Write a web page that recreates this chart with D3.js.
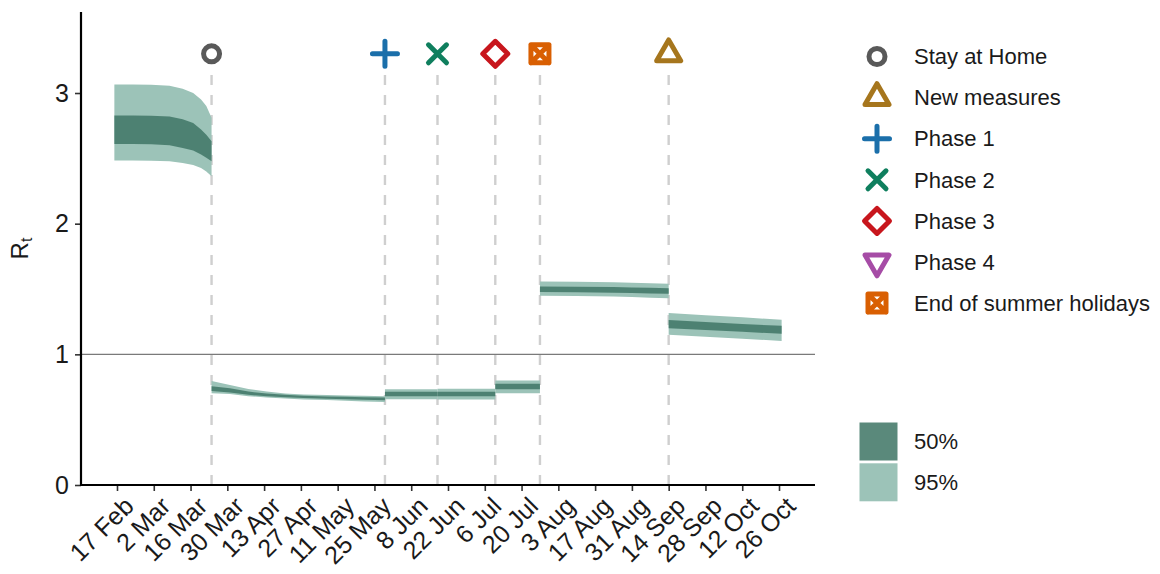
<!DOCTYPE html>
<html>
<head>
<meta charset="utf-8">
<script src="https://cdn.jsdelivr.net/npm/d3@7"></script>
<style>
  body { margin: 0; background: #fff; }
  text { font-family: "Liberation Sans", Arial, Helvetica, sans-serif; fill: #1a1a1a; }
</style>
</head>
<body>
<svg id="chart" width="1160" height="574"></svg>
<script>
// ---- Axis ticks ----
const tickDates = ["2020-02-17","2020-03-02","2020-03-16","2020-03-30","2020-04-13","2020-04-27",
  "2020-05-11","2020-05-25","2020-06-08","2020-06-22","2020-07-06","2020-07-20","2020-08-03",
  "2020-08-17","2020-08-31","2020-09-14","2020-09-28","2020-10-12","2020-10-26"];
const tickLabels = ["17 Feb","2 Mar","16 Mar","30 Mar","13 Apr","27 Apr","11 May","25 May",
  "8 Jun","22 Jun","6 Jul","20 Jul","3 Aug","17 Aug","31 Aug","14 Sep","28 Sep","12 Oct","26 Oct"];
const yTicks = [0, 1, 2, 3];

// ---- Interventions marked above the plot ----
const eventNames = ["Stay at Home","Phase 1","Phase 2","Phase 3","End of summer holidays","New measures"];
const eventDates = ["2020-03-24","2020-05-29","2020-06-18","2020-07-10","2020-07-27","2020-09-14"];
const eventMarkerY = 3.3;
const eventLineTop = 3.18;

// ---- Legend entries (shape and colour per intervention) ----
const legendNames  = ["Stay at Home","New measures","Phase 1","Phase 2","Phase 3","Phase 4","End of summer holidays"];
const legendShapes = ["circle","triangle","plus","cross","diamond","triangleDown","boxcross"];
const legendColors = ["#595959","#a6761d","#1b6faa","#0f7f5e","#c8161d","#a64ca6","#d95f02"];

// ---- Rt credible intervals per period: [date, lo95, lo50, hi50, hi95] ----
const rtBeforeLockdown = [
  ["2020-02-16", 2.483, 2.610, 2.828, 3.066],
  ["2020-02-23", 2.483, 2.610, 2.828, 3.066],
  ["2020-03-01", 2.482, 2.608, 2.826, 3.064],
  ["2020-03-08", 2.478, 2.600, 2.820, 3.056],
  ["2020-03-13", 2.465, 2.580, 2.800, 3.032],
  ["2020-03-17", 2.450, 2.560, 2.770, 3.000],
  ["2020-03-20", 2.427, 2.530, 2.720, 2.950],
  ["2020-03-22", 2.400, 2.505, 2.680, 2.900],
  ["2020-03-24", 2.362, 2.477, 2.630, 2.810]
];
const rtLockdown = [
  ["2020-03-24", 0.703, 0.720, 0.755, 0.795],
  ["2020-03-31", 0.697, 0.708, 0.740, 0.765],
  ["2020-04-07", 0.680, 0.690, 0.715, 0.735],
  ["2020-04-14", 0.670, 0.680, 0.700, 0.715],
  ["2020-04-21", 0.662, 0.672, 0.690, 0.700],
  ["2020-04-28", 0.655, 0.665, 0.683, 0.693],
  ["2020-05-07", 0.650, 0.660, 0.678, 0.688],
  ["2020-05-14", 0.645, 0.657, 0.675, 0.685],
  ["2020-05-21", 0.640, 0.653, 0.672, 0.683],
  ["2020-05-29", 0.635, 0.648, 0.670, 0.680]
];
const rtPhase1 = [
  ["2020-05-29", 0.657, 0.680, 0.714, 0.733],
  ["2020-06-18", 0.657, 0.680, 0.714, 0.733]
];
const rtPhase2 = [
  ["2020-06-18", 0.655, 0.680, 0.714, 0.737],
  ["2020-07-10", 0.655, 0.680, 0.714, 0.737]
];
const rtPhase3 = [
  ["2020-07-10", 0.703, 0.733, 0.775, 0.800],
  ["2020-07-27", 0.703, 0.733, 0.775, 0.800]
];
const rtSummer = [
  ["2020-07-27", 1.448, 1.477, 1.520, 1.558],
  ["2020-08-10", 1.446, 1.476, 1.518, 1.556],
  ["2020-08-24", 1.442, 1.472, 1.515, 1.552],
  ["2020-08-31", 1.438, 1.469, 1.512, 1.548],
  ["2020-09-07", 1.434, 1.466, 1.509, 1.544],
  ["2020-09-14", 1.430, 1.463, 1.506, 1.540]
];
const rtNewMeasures = [
  ["2020-09-14", 1.149, 1.200, 1.262, 1.316],
  ["2020-09-28", 1.135, 1.187, 1.248, 1.300],
  ["2020-10-12", 1.120, 1.172, 1.233, 1.283],
  ["2020-10-27", 1.103, 1.157, 1.218, 1.264]
];
const rtPeriods = [rtBeforeLockdown, rtLockdown, rtPhase1, rtPhase2, rtPhase3, rtSummer, rtNewMeasures];

const bandLevels = ["50%", "95%"];

// ---- Layout ----
const plot = { left: 81, right: 815, top: 12, bottom: 485 };
const axisFont = 25;
const legendFont = 22;
const fill95 = "#9cc3b8";
const fill50 = "#427867";
const fill50Opacity = 0.87;

const parse = d3.utcParse("%Y-%m-%d");
const svg = d3.select("#chart");

// x: date extent of the estimates expanded by 5% on each side
const allDates = rtPeriods.flat().map(r => parse(r[0]));
const [d0, d1] = d3.extent(allDates);
const pad = (d1 - d0) * 0.05;
const x = d3.scaleUtc()
  .domain([new Date(+d0 - pad), new Date(+d1 + pad)])
  .range([plot.left, plot.right]);
const y = d3.scaleLinear().domain([0, 3.62]).range([plot.bottom, plot.top]);

// Event guide lines
const events = eventNames.map((n, i) => ({ name: n, date: parse(eventDates[i]),
  shape: legendShapes[legendNames.indexOf(n)], color: legendColors[legendNames.indexOf(n)] }));

svg.append("g").selectAll("line").data(events).join("line")
  .attr("x1", d => x(d.date)).attr("x2", d => x(d.date))
  .attr("y1", y(0)).attr("y2", y(eventLineTop))
  .attr("stroke", "#cfcfcf").attr("stroke-width", 2.4)
  .attr("stroke-dasharray", "10,10");

// Reference line at Rt = 1
svg.append("line")
  .attr("x1", plot.left).attr("x2", plot.right)
  .attr("y1", y(1)).attr("y2", y(1))
  .attr("stroke", "#7a7a7a").attr("stroke-width", 1.1);

// Credible bands
const area95 = d3.area().x(r => x(parse(r[0]))).y0(r => y(r[1])).y1(r => y(r[4]));
const area50 = d3.area().x(r => x(parse(r[0]))).y0(r => y(r[2])).y1(r => y(r[3]));
const bands = svg.append("g");
bands.selectAll("path.b95").data(rtPeriods).join("path").attr("class", "b95")
  .attr("d", area95).attr("fill", fill95);
bands.selectAll("path.b50").data(rtPeriods).join("path").attr("class", "b50")
  .attr("d", area50).attr("fill", fill50).attr("fill-opacity", fill50Opacity);

// Marker shapes drawn as outlines
function shapePath(shape) {
  const p = d3.path();
  switch (shape) {
    case "circle": p.arc(0, 0, 8, 0, 2 * Math.PI); p.closePath(); break;
    case "triangle": {
      const s = 24, h = s * Math.sqrt(3) / 2;
      p.moveTo(0, -2 * h / 3); p.lineTo(s / 2, h / 3); p.lineTo(-s / 2, h / 3); p.closePath(); break;
    }
    case "triangleDown": {
      const s = 24, h = s * Math.sqrt(3) / 2;
      p.moveTo(0, 2 * h / 3); p.lineTo(s / 2, -h / 3); p.lineTo(-s / 2, -h / 3); p.closePath(); break;
    }
    case "plus": p.moveTo(-12.5, 0); p.lineTo(12.5, 0); p.moveTo(0, -12.5); p.lineTo(0, 12.5); break;
    case "cross": p.moveTo(-9, -9); p.lineTo(9, 9); p.moveTo(-9, 9); p.lineTo(9, -9); break;
    case "diamond": p.moveTo(0, -12.5); p.lineTo(12.5, 0); p.lineTo(0, 12.5); p.lineTo(-12.5, 0); p.closePath(); break;
    case "boxcross":
      p.rect(-9, -9, 18, 18);
      p.moveTo(-9, -9); p.lineTo(9, 9); p.moveTo(-9, 9); p.lineTo(9, -9); break;
  }
  return p.toString();
}
function drawMarker(g, shape, color) {
  g.append("path").attr("d", shapePath(shape))
    .attr("fill", "none").attr("stroke", color).attr("stroke-width", 5)
    .attr("stroke-linecap", "round").attr("stroke-linejoin", "round");
}

svg.append("g").selectAll("g").data(events).join("g")
  .attr("transform", d => `translate(${x(d.date)},${y(eventMarkerY)})`)
  .each(function (d) { drawMarker(d3.select(this), d.shape, d.color); });

// Axes
const xAxis = svg.append("g").attr("transform", `translate(0,${plot.bottom})`)
  .call(d3.axisBottom(x).tickValues(tickDates.map(parse)).tickSize(6).tickSizeOuter(0)
    .tickFormat((d, i) => tickLabels[i]));
xAxis.select(".domain").remove();
xAxis.selectAll(".tick line").attr("stroke", "#333").attr("stroke-width", 1.6);
xAxis.selectAll(".tick text")
  .attr("font-size", axisFont).attr("fill", "#1a1a1a")
  .attr("text-anchor", "end")
  .attr("x", 0).attr("y", 0).attr("dy", "0.72em")
  .attr("transform", "translate(5,10) rotate(-45)");

const yAxis = svg.append("g").attr("transform", `translate(${plot.left},0)`)
  .call(d3.axisLeft(y).tickValues(yTicks).tickSize(6).tickSizeOuter(0).tickPadding(6)
    .tickFormat(d3.format("d")));
yAxis.select(".domain").remove();
yAxis.selectAll(".tick line").attr("stroke", "#333").attr("stroke-width", 1.6);
yAxis.selectAll(".tick text").attr("font-size", axisFont).attr("fill", "#1a1a1a");

// Axis lines
svg.append("line").attr("x1", plot.left).attr("x2", plot.left)
  .attr("y1", plot.top).attr("y2", plot.bottom + 1)
  .attr("stroke", "#000").attr("stroke-width", 2.2);
svg.append("line").attr("x1", plot.left - 1).attr("x2", plot.right)
  .attr("y1", plot.bottom).attr("y2", plot.bottom)
  .attr("stroke", "#000").attr("stroke-width", 2.2);

// Y title R_t
const yTitle = svg.append("text")
  .attr("transform", `translate(28,${(plot.top + plot.bottom) / 2}) rotate(-90)`)
  .attr("text-anchor", "middle").attr("font-size", 24);
yTitle.append("tspan").text("R");
yTitle.append("tspan").attr("font-size", 16).attr("dy", 4).text("t");

// Legend: interventions
const legend = svg.append("g");
const rowH = 41.1, legY0 = 56.5, keyX = 877, labelX = 914;
legendNames.forEach((name, i) => {
  const cy = legY0 + i * rowH;
  const g = legend.append("g").attr("transform", `translate(${keyX},${cy})`);
  drawMarker(g, legendShapes[i], legendColors[i]);
  legend.append("text").attr("x", labelX).attr("y", cy).attr("dy", "0.35em")
    .attr("font-size", legendFont).text(name);
});

// Legend: credible interval levels
const bandKeys = [
  { label: bandLevels[0], fill: fill50, opacity: fill50Opacity },
  { label: bandLevels[1], fill: fill95, opacity: 1 }
];
bandKeys.forEach((k, i) => {
  const top = 422.5 + i * 40.8;
  legend.append("rect").attr("x", 859.5).attr("y", top).attr("width", 38).attr("height", 38)
    .attr("fill", k.fill).attr("fill-opacity", k.opacity);
  legend.append("text").attr("x", labelX).attr("y", top + 19).attr("dy", "0.35em")
    .attr("font-size", legendFont).text(k.label);
});
</script>
</body>
</html>
